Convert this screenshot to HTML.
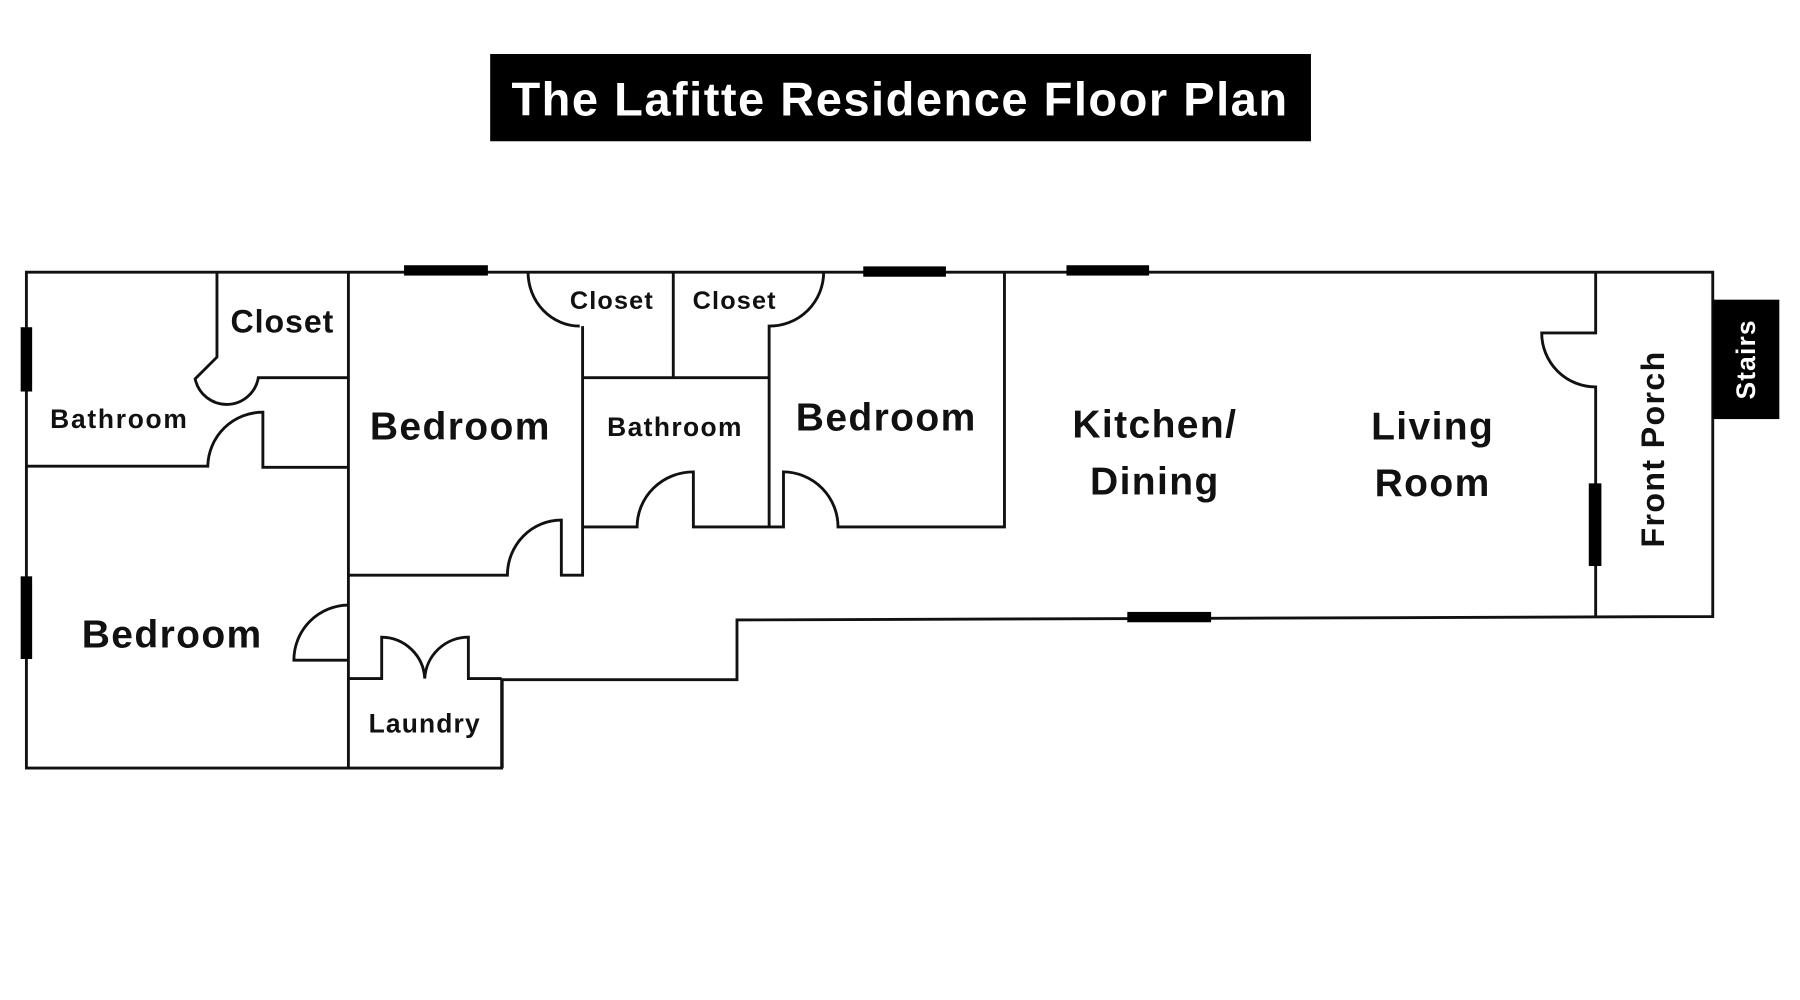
<!DOCTYPE html>
<html><head><meta charset="utf-8"><style>
html,body{margin:0;padding:0;background:#fff;}
svg{display:block}
text{font-family:"Liberation Sans",sans-serif;font-weight:bold;fill:#111;text-anchor:middle;dominant-baseline:central}
</style></head><body>
<svg width="1800" height="1000" viewBox="0 0 1568 871" xmlns="http://www.w3.org/2000/svg">
<rect x="427" y="47" width="715" height="76" fill="#000"/>
<text x="784" y="86" style="fill:#fff;font-size:41px;letter-spacing:1.3px">The Lafitte Residence Floor Plan</text>
<g fill="none" stroke="#111" stroke-width="2.5" stroke-linejoin="miter">
<path d="M23,237 H1492 V537 L642,540 V592 H437 V669 H23 Z"/>
<path d="M189,237 V311 L170,330 A28,28 0 0 0 225,329 H303.5"/>
<path d="M303.5,237 V669"/>
<path d="M23,406 H181 A48,48 0 0 1 229,359 V407 H303.5"/>
<path d="M303.5,501 H442 A47,48 0 0 1 489,453 V501 H507.5 V284"/>
<path d="M460,237 A45,47 0 0 0 505,284"/>
<path d="M586.5,237 V329 M507,329 H670"/>
<path d="M717.5,237 A47,47 0 0 1 670,284 V459"/>
<path d="M507,459 H555 A49,48 0 0 1 604,411 V459 H682.5 V411 A48,48 0 0 1 730,459 H875 V237"/>
<path d="M303.5,527 A48,48 0 0 0 256,575 H303.5"/>
<path d="M303.5,591 H332.5 V555 A38,38 0 0 1 370,591 A38,38 0 0 1 408,555 V591 H437"/>
<path d="M437.5,591 V669"/>
<path d="M1390,237 V290 H1343 A47,47 0 0 0 1390,337 V537"/>
</g>
<g fill="#000">
<rect x="352" y="231" width="73" height="9"/>
<rect x="752" y="232" width="72" height="9"/>
<rect x="929" y="231" width="72" height="9"/>
<rect x="982" y="533" width="73" height="9"/>
<rect x="18" y="285" width="10" height="56"/>
<rect x="18" y="502" width="10" height="72"/>
<rect x="1384" y="421" width="11" height="72"/>
<rect x="1492" y="261" width="58" height="104"/>
</g>
<text x="246" y="280" style="font-size:28px;letter-spacing:0.8px">Closet</text>
<text x="104" y="365" style="font-size:23px;letter-spacing:1.5px">Bathroom</text>
<text x="401" y="372" style="font-size:34px;letter-spacing:1.2px">Bedroom</text>
<text x="533" y="262" style="font-size:22px;letter-spacing:1px">Closet</text>
<text x="640" y="262" style="font-size:22px;letter-spacing:1px">Closet</text>
<text x="588" y="372" style="font-size:23px;letter-spacing:1.2px">Bathroom</text>
<text x="772" y="364" style="font-size:34px;letter-spacing:1.2px">Bedroom</text>
<text x="1006" y="370" style="font-size:34px;letter-spacing:1.2px">Kitchen/</text>
<text x="1006" y="420" style="font-size:34px;letter-spacing:1.2px">Dining</text>
<text x="1248" y="372" style="font-size:34px;letter-spacing:1.2px">Living</text>
<text x="1248" y="421" style="font-size:34px;letter-spacing:1.2px">Room</text>
<text x="150" y="553" style="font-size:34px;letter-spacing:1.2px">Bedroom</text>
<text x="370" y="630" style="font-size:23px;letter-spacing:1px">Laundry</text>
<text transform="translate(1440,391) rotate(-90)" style="font-size:28px;letter-spacing:1.2px">Front Porch</text>
<text transform="translate(1521,313) rotate(-90)" style="font-size:23px;fill:#fff;letter-spacing:1px">Stairs</text>
</svg>
</body></html>
